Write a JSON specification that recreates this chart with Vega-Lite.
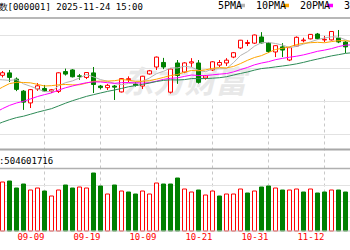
{
  "$schema": "https://vega.github.io/schema/vega-lite/v6.json",
  "width": 350,
  "height": 214,
  "autosize": {"type": "none"},
  "padding": {"left": 0, "top": 17, "right": 0, "bottom": 19},
  "background": "#ffffff",
  "config": {"view": {"stroke": null}, "font": "DejaVu Sans Mono"},
  "data": {"values": [
    {"d":"08-28","o":3800,"h":3845,"l":3778,"c":3843.60,"pc":3800.35,"v":7.65,"5PMA":3844.33,"10PMA":3791.11,"20PMA":3712.20,"30PMA":3669.95},
    {"d":"08-29","o":3838,"h":3866,"l":3825,"c":3857.93,"pc":3843.60,"v":7.48,"5PMA":3850.76,"10PMA":3807.22,"20PMA":3727.10,"30PMA":3680.73},
    {"d":"09-01","o":3866,"h":3882,"l":3858,"c":3875.53,"pc":3857.93,"v":8.33,"5PMA":3849.16,"10PMA":3821.97,"20PMA":3741.71,"30PMA":3691.26},
    {"d":"09-02","o":3875,"h":3886,"l":3841,"c":3858.13,"pc":3875.53,"v":8.50,"5PMA":3847.11,"10PMA":3835.06,"20PMA":3753.74,"30PMA":3700.46},
    {"d":"09-03","o":3852,"h":3858,"l":3807,"c":3813.56,"pc":3858.13,"v":7.31,"5PMA":3849.75,"10PMA":3839.79,"20PMA":3762.72,"30PMA":3708.17},
    {"d":"09-04","o":3807,"h":3811,"l":3737,"c":3765.88,"pc":3813.56,"v":7.99,"5PMA":3834.21,"10PMA":3839.27,"20PMA":3769.03,"30PMA":3713.51},
    {"d":"09-05","o":3763,"h":3815,"l":3744,"c":3812.51,"pc":3765.88,"v":6.97,"5PMA":3825.12,"10PMA":3837.94,"20PMA":3777.90,"30PMA":3720.81},
    {"d":"09-08","o":3815,"h":3837,"l":3808,"c":3826.84,"pc":3812.51,"v":7.31,"5PMA":3815.38,"10PMA":3832.27,"20PMA":3786.86,"30PMA":3728.44},
    {"d":"09-09","o":3817,"h":3830,"l":3804,"c":3807.29,"pc":3826.84,"v":6.80,"5PMA":3805.22,"10PMA":3826.16,"20PMA":3793.93,"30PMA":3735.02},
    {"d":"09-10","o":3807,"h":3815,"l":3800,"c":3812.22,"pc":3807.29,"v":5.95,"5PMA":3804.95,"10PMA":3827.35,"20PMA":3800.37,"30PMA":3741.57},
    {"d":"09-11","o":3806,"h":3877,"l":3800,"c":3875.31,"pc":3812.22,"v":6.97,"5PMA":3826.83,"10PMA":3830.52,"20PMA":3810.81,"30PMA":3751.64},
    {"d":"09-12","o":3880,"h":3891,"l":3865,"c":3870.60,"pc":3875.31,"v":7.82,"5PMA":3838.45,"10PMA":3831.79,"20PMA":3819.50,"30PMA":3762.00},
    {"d":"09-15","o":3886,"h":3889,"l":3858,"c":3860.50,"pc":3870.60,"v":7.31,"5PMA":3845.18,"10PMA":3830.28,"20PMA":3826.13,"30PMA":3771.24},
    {"d":"09-16","o":3864,"h":3871,"l":3849,"c":3861.87,"pc":3860.50,"v":7.48,"5PMA":3856.10,"10PMA":3830.66,"20PMA":3832.86,"30PMA":3779.38},
    {"d":"09-17","o":3858,"h":3878,"l":3852,"c":3876.34,"pc":3861.87,"v":7.31,"5PMA":3868.92,"10PMA":3836.94,"20PMA":3838.36,"30PMA":3787.46},
    {"d":"09-18","o":3875,"h":3897,"l":3800,"c":3831.66,"pc":3876.34,"v":9.86,"5PMA":3860.19,"10PMA":3843.51,"20PMA":3841.39,"30PMA":3793.86},
    {"d":"09-19","o":3826,"h":3830,"l":3813,"c":3820.09,"pc":3831.66,"v":7.65,"5PMA":3850.09,"10PMA":3844.27,"20PMA":3841.11,"30PMA":3800.02},
    {"d":"09-22","o":3820,"h":3834,"l":3811,"c":3828.58,"pc":3820.09,"v":6.29,"5PMA":3843.71,"10PMA":3844.45,"20PMA":3838.36,"30PMA":3806.06},
    {"d":"09-23","o":3826,"h":3830,"l":3774,"c":3821.83,"pc":3828.58,"v":7.82,"5PMA":3835.70,"10PMA":3845.90,"20PMA":3836.03,"30PMA":3811.25},
    {"d":"09-24","o":3804,"h":3856,"l":3802,"c":3853.64,"pc":3821.83,"v":6.80,"5PMA":3831.16,"10PMA":3850.04,"20PMA":3838.70,"30PMA":3816.93},
    {"d":"09-25","o":3850,"h":3862,"l":3840,"c":3853.30,"pc":3853.64,"v":6.63,"5PMA":3835.49,"10PMA":3847.84,"20PMA":3839.18,"30PMA":3823.16},
    {"d":"09-26","o":3833,"h":3841,"l":3824,"c":3828.11,"pc":3853.30,"v":6.29,"5PMA":3837.09,"10PMA":3843.59,"20PMA":3837.69,"30PMA":3827.53},
    {"d":"09-29","o":3826,"h":3864,"l":3815,"c":3862.53,"pc":3828.11,"v":6.80,"5PMA":3843.88,"10PMA":3843.80,"20PMA":3837.04,"30PMA":3832.02},
    {"d":"09-30","o":3871,"h":3886,"l":3869,"c":3882.78,"pc":3862.53,"v":6.29,"5PMA":3856.07,"10PMA":3845.89,"20PMA":3838.27,"30PMA":3837.20},
    {"d":"10-09","o":3897,"h":3936,"l":3886,"c":3933.97,"pc":3882.78,"v":8.16,"5PMA":3872.14,"10PMA":3851.65,"20PMA":3844.29,"30PMA":3842.79},
    {"d":"10-10","o":3914,"h":3931,"l":3889,"c":3897.03,"pc":3933.97,"v":7.99,"5PMA":3880.88,"10PMA":3858.19,"20PMA":3850.85,"30PMA":3846.99},
    {"d":"10-13","o":3803,"h":3891,"l":3798,"c":3889.50,"pc":3897.03,"v":7.99,"5PMA":3893.16,"10PMA":3865.13,"20PMA":3854.70,"30PMA":3849.11},
    {"d":"10-14","o":3912,"h":3923,"l":3834,"c":3865.23,"pc":3889.50,"v":9.01,"5PMA":3893.70,"10PMA":3868.79,"20PMA":3856.62,"30PMA":3848.50},
    {"d":"10-15","o":3878,"h":3915,"l":3874,"c":3912.21,"pc":3865.23,"v":7.14,"5PMA":3899.59,"10PMA":3877.83,"20PMA":3861.87,"30PMA":3849.96},
    {"d":"10-16","o":3912,"h":3930,"l":3897,"c":3916.33,"pc":3912.21,"v":6.63,"5PMA":3896.06,"10PMA":3884.10,"20PMA":3867.07,"30PMA":3853.83},
    {"d":"10-17","o":3912,"h":3923,"l":3835,"c":3839.76,"pc":3916.33,"v":6.97,"5PMA":3884.61,"10PMA":3882.75,"20PMA":3865.29,"30PMA":3853.70},
    {"d":"10-20","o":3856,"h":3866,"l":3850,"c":3863.89,"pc":3839.76,"v":6.12,"5PMA":3879.48,"10PMA":3886.32,"20PMA":3864.96,"30PMA":3853.90},
    {"d":"10-21","o":3886,"h":3919,"l":3882,"c":3916.33,"pc":3863.89,"v":6.80,"5PMA":3889.70,"10PMA":3891.70,"20PMA":3867.75,"30PMA":3855.26},
    {"d":"10-22","o":3904,"h":3923,"l":3897,"c":3913.76,"pc":3916.33,"v":5.95,"5PMA":3890.01,"10PMA":3894.80,"20PMA":3870.34,"30PMA":3857.12},
    {"d":"10-23","o":3912,"h":3930,"l":3901,"c":3922.41,"pc":3913.76,"v":6.29,"5PMA":3891.23,"10PMA":3893.65,"20PMA":3872.65,"30PMA":3860.74},
    {"d":"10-24","o":3934,"h":3953,"l":3930,"c":3950.31,"pc":3922.41,"v":6.29,"5PMA":3913.34,"10PMA":3898.97,"20PMA":3878.58,"30PMA":3866.89},
    {"d":"10-27","o":3968,"h":3998,"l":3964,"c":3996.94,"pc":3950.31,"v":7.14,"5PMA":3939.95,"10PMA":3909.72,"20PMA":3887.42,"30PMA":3873.04},
    {"d":"10-28","o":3984.6,"h":3998,"l":3975,"c":3988.22,"pc":3996.94,"v":6.46,"5PMA":3954.33,"10PMA":3922.02,"20PMA":3895.40,"30PMA":3878.42},
    {"d":"10-29","o":3986,"h":4018,"l":3983,"c":4016.33,"pc":3988.22,"v":6.80,"5PMA":3974.84,"10PMA":3932.43,"20PMA":3905.13,"30PMA":3885.39},
    {"d":"10-30","o":4009,"h":4027,"l":3985,"c":3986.90,"pc":4016.33,"v":7.48,"5PMA":3987.74,"10PMA":3939.49,"20PMA":3911.79,"30PMA":3891.21},
    {"d":"10-31","o":3986,"h":3990,"l":3949,"c":3954.79,"pc":3986.90,"v":7.65,"5PMA":3988.64,"10PMA":3950.99,"20PMA":3916.87,"30PMA":3893.86},
    {"d":"11-03","o":3953,"h":3978,"l":3934,"c":3976.52,"pc":3954.79,"v":7.31,"5PMA":3984.55,"10PMA":3962.25,"20PMA":3924.29,"30PMA":3897.39},
    {"d":"11-04","o":3972,"h":3986,"l":3934,"c":3960.19,"pc":3976.52,"v":6.97,"5PMA":3978.95,"10PMA":3966.64,"20PMA":3929.17,"30PMA":3900.71},
    {"d":"11-05","o":3923,"h":3972,"l":3919,"c":3969.25,"pc":3960.19,"v":6.97,"5PMA":3969.53,"10PMA":3972.19,"20PMA":3933.49,"30PMA":3904.29},
    {"d":"11-06","o":3975,"h":4011,"l":3973,"c":4007.76,"pc":3969.25,"v":7.14,"5PMA":3973.70,"10PMA":3980.72,"20PMA":3937.18,"30PMA":3908.67},
    {"d":"11-07","o":3995,"h":4006,"l":3989,"c":3997.56,"pc":4007.76,"v":6.63,"5PMA":3982.26,"10PMA":3985.45,"20PMA":3942.21,"30PMA":3914.20},
    {"d":"11-10","o":4002,"h":4020,"l":4000,"c":4018.60,"pc":3997.56,"v":7.14,"5PMA":3990.67,"10PMA":3987.61,"20PMA":3948.66,"30PMA":3920.82},
    {"d":"11-11","o":4020,"h":4024,"l":4000,"c":4002.76,"pc":4018.60,"v":6.46,"5PMA":3999.19,"10PMA":3989.07,"20PMA":3955.54,"30PMA":3926.62},
    {"d":"11-12","o":3998,"h":4013,"l":3990,"c":4000.14,"pc":4002.76,"v":6.63,"5PMA":4005.36,"10PMA":3987.45,"20PMA":3959.94,"30PMA":3932.57},
    {"d":"11-13","o":3998,"h":4031,"l":3996,"c":4029.50,"pc":4000.14,"v":6.97,"5PMA":4009.71,"10PMA":3991.71,"20PMA":3965.60,"30PMA":3938.43},
    {"d":"11-14","o":4005,"h":4035,"l":3986,"c":3990.49,"pc":4029.50,"v":6.97,"5PMA":4008.30,"10PMA":3995.28,"20PMA":3973.13,"30PMA":3943.00},
    {"d":"11-17","o":3990,"h":3994,"l":3949,"c":3972.03,"pc":3990.49,"v":6.63,"5PMA":3998.98,"10PMA":3994.83,"20PMA":3978.54,"30PMA":3947.80},
    {"d":"11-18","o":3965,"h":3968,"l":3925,"c":3939.81,"pc":3972.03,"v":6.97,"5PMA":3986.39,"10PMA":3992.79,"20PMA":3979.71,"30PMA":3950.38}
  ]},
  "layer": [
    {
      "layer": [
        {
          "data": {"values": [{"t": "东方财富"}]},
          "mark": {"type": "text", "font": "Noto Sans CJK SC", "fontSize": 31, "fontWeight": "bold", "fontStyle": "italic", "color": "#e8e8e8", "baseline": "middle", "align": "center"},
          "encoding": {
            "x": {"datum": "10-15", "type": "ordinal"},
            "y": {"datum": 3833.6, "type": "quantitative"},
            "text": {"field": "t"}
          }
        },
        {
          "mark": {"type": "rule", "strokeWidth": 1},
          "encoding": {
            "x": {"field": "d", "type": "ordinal", "title": null,
              "scale": {"type": "band", "domain": ["08-28","08-29","09-01","09-02","09-03","09-04","09-05","09-08","09-09","09-10","09-11","09-12","09-15","09-16","09-17","09-18","09-19","09-22","09-23","09-24","09-25","09-26","09-29","09-30","10-09","10-10","10-13","10-14","10-15","10-16","10-17","10-20","10-21","10-22","10-23","10-24","10-27","10-28","10-29","10-30","10-31","11-03","11-04","11-05","11-06","11-07","11-10","11-11","11-12","11-13","11-14","11-17","11-18"], "range": [-15, 356], "paddingInner": 0, "paddingOuter": 0},
              "axis": {"values": ["08-28","09-09","09-19","10-09","10-21","10-31","11-12"], "orient": "bottom", "bandPosition": 0.5, "grid": true, "gridDash": [3, 3], "gridColor": "#c8c8c8", "gridWidth": 1, "domain": false, "ticks": false, "labelColor": "#ff0000", "labelFont": "DejaVu Sans Mono", "labelFontSize": 9, "labelPadding": 5, "labelOverlap": false, "labelAngle": 0}
            },
            "y": {"field": "l", "type": "quantitative",
              "scale": {"domain": [3591.13, 4083.49], "range": [132, 0], "nice": false, "zero": false},
              "axis": {"orient": "left", "values": [4016.35, 3954.8, 3893.26, 3831.72, 3770.17, 3708.63, 3647.08], "grid": true, "gridColor": "#e2e2e2", "labels": false, "ticks": false, "domain": false, "title": "上证指数[000001] 2025-11-24 15:00", "titleAngle": 0, "titleAlign": "left", "titleBaseline": "middle", "titleX": -29, "titleY": -11, "titleFont": "DejaVu Sans Mono", "titleFontSize": 9, "titleFontWeight": "normal", "titleColor": "#000000"}
            },
            "y2": {"field": "h"},
            "color": {"condition": {"test": "datum.c >= datum.o", "value": "#ff0000"}, "value": "#008000"}
          }
        },
        {
          "mark": {"type": "bar", "width": 4, "strokeWidth": 1},
          "encoding": {
            "x": {"field": "d", "type": "ordinal", "title": null},
            "y": {"field": "o", "type": "quantitative"},
            "y2": {"field": "c"},
            "fill": {"condition": {"test": "datum.c >= datum.o", "value": "#ffffff"}, "value": "#008000"},
            "stroke": {"condition": {"test": "datum.c >= datum.o", "value": "#ff0000"}, "value": "#008000"}
          }
        },
        {
          "transform": [{"fold": ["5PMA", "10PMA", "20PMA", "30PMA"], "as": ["k", "val"]}],
          "mark": {"type": "line", "strokeWidth": 1},
          "encoding": {
            "x": {"field": "d", "type": "ordinal", "title": null},
            "y": {"field": "val", "type": "quantitative"},
            "color": {"field": "k", "type": "nominal",
              "scale": {"domain": ["5PMA", "10PMA", "20PMA", "30PMA"], "range": ["#b4b4b4", "#ffa500", "#ff00ff", "#2e8b57"]},
              "legend": {"orient": "none", "legendX": 237, "legendY": -16.5, "direction": "horizontal", "title": null, "labelFont": "DejaVu Sans Mono", "labelFontSize": 10, "labelColor": "#000000", "symbolType": "stroke", "symbolSize": 36, "symbolStrokeWidth": 3.5, "labelAlign": "right", "labelOffset": -5, "columnPadding": 3, "padding": 0, "labelLimit": 100}
            }
          }
        },
        {
          "data": {"values": [{}]},
          "mark": {"type": "rule", "color": "#a0a0a0", "strokeWidth": 1.5},
          "encoding": {"y": {"datum": 4079.76, "type": "quantitative"}}
        },
        {
          "data": {"values": [{}]},
          "mark": {"type": "rule", "color": "#a8a8a8", "strokeWidth": 2},
          "encoding": {"y": {"datum": 3589.3, "type": "quantitative"}}
        }
      ]
    },
    {
      "layer": [
        {
          "mark": {"type": "bar", "width": 4, "strokeWidth": 1},
          "encoding": {
            "x": {"field": "d", "type": "ordinal", "title": null},
            "y": {"field": "v", "type": "quantitative",
              "scale": {"domain": [0, 10.71], "range": [214, 151], "nice": false, "zero": true},
              "axis": {"orient": "left", "values": [2.38, 5.1, 7.82], "grid": true, "gridColor": "#e2e2e2", "labels": false, "ticks": false, "domain": false, "title": "VOL:504601716", "titleAngle": 0, "titleAlign": "left", "titleBaseline": "middle", "titleX": -17.8, "titleY": 143.7, "titleFont": "DejaVu Sans Mono", "titleFontSize": 9, "titleFontWeight": "normal", "titleColor": "#000000"}
            },
            "fill": {"condition": {"test": "datum.c >= datum.pc", "value": "#ffffff"}, "value": "#008000"},
            "stroke": {"condition": {"test": "datum.c >= datum.pc", "value": "#ff0000"}, "value": "#008000"}
          }
        },
        {
          "data": {"values": [{}]},
          "mark": {"type": "rule", "color": "#b0b0b0", "strokeWidth": 1.5},
          "encoding": {"y": {"datum": 10.63, "type": "quantitative"}}
        },
        {
          "data": {"values": [{}]},
          "mark": {"type": "rule", "color": "#c8c8c8", "strokeWidth": 1},
          "encoding": {"y": {"datum": 0, "type": "quantitative"}}
        }
      ]
    }
  ],
  "resolve": {"scale": {"y": "independent"}}
}
